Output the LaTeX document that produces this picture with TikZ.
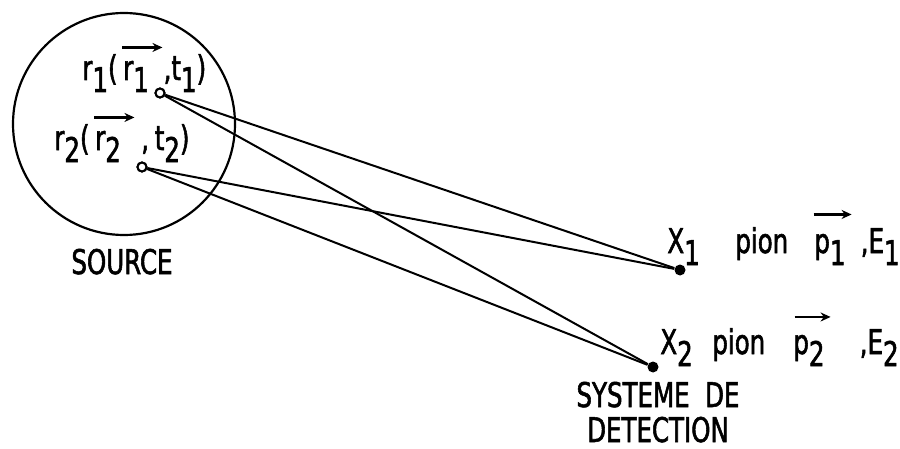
\documentclass[tikz,border=0pt]{standalone}
\usepackage{fontspec}
\setmainfont{DejaVu Sans}[FakeStretch=0.72, FakeBold=1.6]
\usetikzlibrary{positioning, arrows.meta}
\newcommand{\subdown}[1]{\raisebox{-6pt}{#1}}
% vector arrow over a symbol: #1 shift, #2 length, #3 gap, #4 symbol
\newcommand{\vecto}[4]{\leavevmode\vbox{\offinterlineskip
  \hbox{\kern#1\tikz[x=1pt, y=1pt]\draw[line width=1.2pt, -{Stealth[length=5pt, width=4.5pt]}] (0,0) -- (#2,0);}
  \kern#3\hbox{\rule{0pt}{9pt}#4}}}

\begin{document}
\begin{tikzpicture}[x=0.5pt, y=-0.5pt,
  lbl/.style={font=\fontsize{17}{17.5}\selectfont, inner sep=0pt, anchor=base west},
  hole/.style={circle, draw, line width=1pt, inner sep=0pt, minimum size=4.5pt, fill=white},
  det/.style={circle, fill, inner sep=0pt, minimum size=5.5pt},
  ray/.style={line width=1pt}
]
\useasboundingbox (0,0) rectangle (900,449);
\node[draw, circle, line width=1.1pt, inner sep=0pt, minimum size=111pt] (source) at (124,124) {};

% emission points and detectors
\node[hole] (r1) at (160,93) {};
\node[hole] (r2) at (142,167) {};
\node[det]  (x1) at (680,270) {};
\node[det]  (x2) at (653,367) {};

\draw[ray] (r1) -- (x1);
\draw[ray] (r1) -- (x2);
\draw[ray] (r2) -- (x1);
\draw[ray] (r2) -- (x2);
\node[hole] at (r1) {};
\node[hole] at (r2) {};

% labels
\node[lbl] (lr1) at (82,80) {r\subdown{1}(\,\vecto{-1pt}{20pt}{4.5pt}{r\subdown{1}},t\subdown{1})};
\node[lbl] (lr2) at (54,150) {r\subdown{2}(\,\vecto{-1pt}{20pt}{4.5pt}{r\subdown{2}}\,,\,t\subdown{2})};
\node[lbl, anchor=base] (src) at (122,274) {SOURCE};

\node[lbl] (lx1)   at (667,253) {X\subdown{1}};
\node[lbl] (pion1) at (735,253) {pion};
\node[lbl] (mom1)  at (814,253) {\vecto{-1pt}{19pt}{7.5pt}{p\subdown{1}}\hspace{4pt},E\subdown{1}};

\node[lbl] (lx2)   at (660,354) {X\subdown{2}};
\node[lbl] (pion2) at (712,354) {pion};
\node[lbl] (mom2)  at (793,354) {\vecto{0pt}{18pt}{6.75pt}{p\subdown{2}}\hspace{14pt},E\subdown{2}};

\node[lbl, align=center, anchor=base] (sys) at (658,442) {SYSTEME~~DE\\DETECTION};
\end{tikzpicture}
\end{document}
